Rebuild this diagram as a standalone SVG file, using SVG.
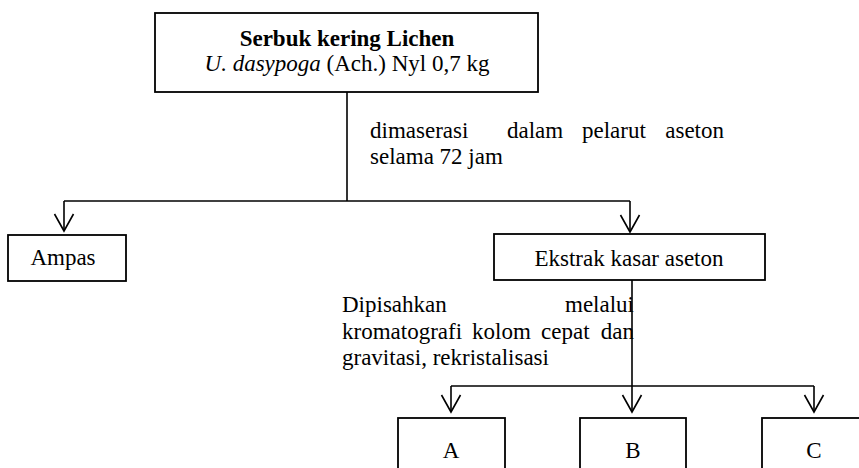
<svg xmlns="http://www.w3.org/2000/svg" width="859" height="468" viewBox="0 0 859 468">
<style>
.box{fill:#fff;stroke:#000;stroke-width:1.8}
.ln{fill:none;stroke:#000;stroke-width:1.6}
.t{font-family:"Liberation Serif","Times New Roman",serif;font-size:23px;fill:#000}
.c{text-anchor:middle}
.e{text-anchor:end}
</style>
<defs>
<marker id="arr" markerUnits="userSpaceOnUse" markerWidth="22" markerHeight="24" viewBox="-19 -12 22 24" refX="0" refY="0" orient="auto" overflow="visible">
<path d="M-17,-9.5 L0,0 L-17,9.5" fill="none" stroke="#000" stroke-width="1.6"/>
</marker>
</defs>
<rect width="859" height="468" fill="#fff"/>
<g id="label-maserasi">
<text class="t" x="370" y="138">dimaserasi</text>
<text class="t" x="507" y="138">dalam</text>
<text class="t" x="582" y="138">pelarut</text>
<text class="t e" x="724" y="138">aseton</text>
<text class="t" x="370" y="164">selama 72 jam</text>
</g>
<g id="label-pisah">
<text class="t" x="342" y="312">Dipisahkan</text>
<text class="t e" x="634" y="312">melalui</text>
<text class="t" x="342" y="339">kromatografi</text>
<text class="t" x="472" y="339">kolom</text>
<text class="t" x="541" y="339">cepat</text>
<text class="t e" x="634" y="339">dan</text>
<text class="t" x="342" y="365">gravitasi, rekristalisasi</text>
</g>
<g id="connectors">
<line class="ln" x1="347" y1="92" x2="347" y2="201"/>
<line class="ln" x1="64" y1="201" x2="630" y2="201"/>
<line class="ln" x1="64" y1="201" x2="64" y2="231" marker-end="url(#arr)"/>
<line class="ln" x1="630" y1="201" x2="630" y2="232" marker-end="url(#arr)"/>
<line class="ln" x1="632" y1="280" x2="632" y2="412" marker-end="url(#arr)"/>
<line class="ln" x1="451" y1="386" x2="814" y2="386"/>
<line class="ln" x1="451" y1="386" x2="451" y2="412" marker-end="url(#arr)"/>
<line class="ln" x1="814" y1="386" x2="814" y2="412" marker-end="url(#arr)"/>
</g>
<g id="node-serbuk">
<rect class="box" x="155" y="13" width="383" height="79"/>
<text class="t c" x="347" y="46" font-weight="bold">Serbuk kering Lichen</text>
<text class="t c" x="347" y="71"><tspan font-style="italic">U. dasypoga</tspan> (Ach.) Nyl 0,7 kg</text>
</g>
<g id="node-ampas">
<rect class="box" x="8" y="235" width="118" height="46"/>
<text class="t c" x="63" y="265">Ampas</text>
</g>
<g id="node-ekstrak">
<rect class="box" x="494" y="234" width="271" height="46"/>
<text class="t c" x="629" y="266">Ekstrak kasar aseton</text>
</g>
<g id="node-a">
<rect class="box" x="398" y="418" width="107" height="70"/>
<text class="t c" x="451" y="458">A</text>
</g>
<g id="node-b">
<rect class="box" x="580" y="418" width="106" height="70"/>
<text class="t c" x="633" y="458">B</text>
</g>
<g id="node-c">
<rect class="box" x="762" y="418" width="106" height="70"/>
<text class="t c" x="814" y="458">C</text>
</g>
</svg>
